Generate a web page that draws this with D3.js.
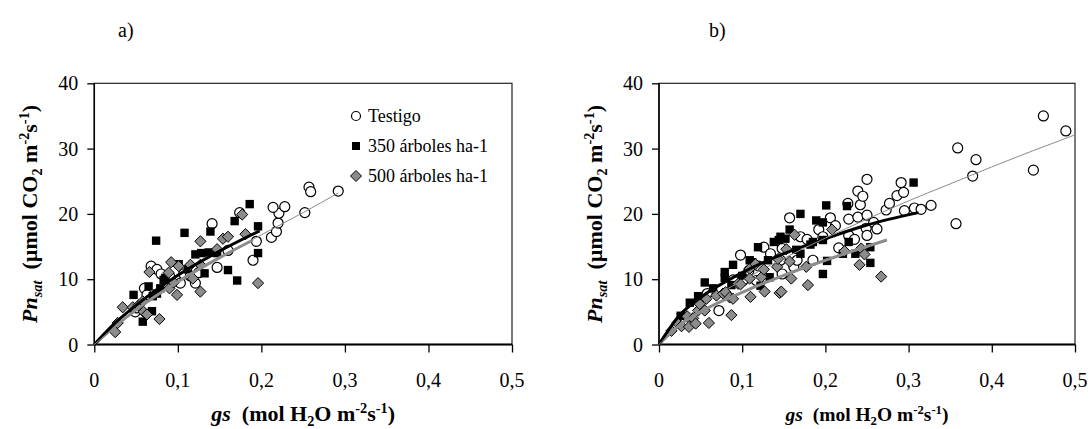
<!DOCTYPE html>
<html>
<head>
<meta charset="utf-8">
<script src="https://cdn.jsdelivr.net/npm/d3@7"></script>
<style>
  html, body { margin: 0; padding: 0; background: #fff; }
  svg text { font-family: "Liberation Serif", "Times New Roman", serif; white-space: pre; }
</style>
</head>
<body>
<svg id="chart" width="1091" height="429"></svg>
<script>
// ---------- DATA ----------
const xTicks = [0, 0.1, 0.2, 0.3, 0.4, 0.5];
const xTickLabels = ["0", "0,1", "0,2", "0,3", "0,4", "0,5"];
const yTicks = [0, 10, 20, 30, 40];
const yTickLabels = ["0", "10", "20", "30", "40"];
const panelLabels = ["a)", "b)"];
const seriesNames = ["Testigo", "350 árboles ha-1", "500 árboles ha-1"];

// Panel a
const testigoA = [
  [0.049,5.0],[0.051,5.6],[0.060,8.6],[0.063,7.6],[0.068,12.0],[0.075,11.5],[0.080,10.8],[0.090,10.5],
  [0.103,9.4],[0.107,10.8],[0.115,10.5],[0.121,9.4],[0.125,11.0],[0.141,18.5],[0.147,11.8],[0.160,14.4],
  [0.174,20.2],[0.190,12.9],[0.194,15.8],[0.212,16.4],[0.218,17.3],[0.220,18.6],[0.221,20.1],[0.214,21.0],
  [0.228,21.1],[0.252,20.2],[0.257,24.1],[0.259,23.4],[0.292,23.5]
];
const arb350A = [
  [0.047,7.6],[0.058,3.5],[0.065,8.9],[0.069,5.1],[0.070,7.4],[0.074,15.9],[0.075,7.8],[0.079,8.6],
  [0.083,9.9],[0.085,10.2],[0.101,12.3],[0.108,17.1],[0.112,11.5],[0.121,13.8],[0.128,14.0],[0.132,10.9],
  [0.137,14.1],[0.139,17.3],[0.147,14.0],[0.160,11.4],[0.168,18.9],[0.171,9.8],[0.186,21.5],[0.196,18.1],
  [0.196,14.0]
];
const arb500A = [
  [0.025,1.9],[0.028,3.3],[0.034,5.7],[0.046,5.7],[0.053,6.0],[0.058,6.6],[0.059,5.0],[0.063,4.6],
  [0.066,11.1],[0.078,3.9],[0.089,11.0],[0.090,8.6],[0.092,12.6],[0.095,9.5],[0.099,7.6],[0.101,12.0],
  [0.115,12.2],[0.118,10.1],[0.127,12.2],[0.127,8.1],[0.127,15.8],[0.147,14.6],[0.154,16.2],[0.160,16.5],
  [0.177,19.9],[0.181,16.9],[0.196,9.4]
];
const fitTestigoA = [[0,0],[0.025,2.7],[0.05,5.2],[0.1,9.5],[0.15,13.3],[0.2,16.8],[0.25,20.2],[0.292,23.2]];
const fit350A = [[0,0],[0.025,3.3],[0.05,6.0],[0.1,10.6],[0.15,14.3],[0.198,17.4]];
const fit500A = [[0,0],[0.025,2.8],[0.05,5.3],[0.1,9.6],[0.15,13.3],[0.19,16.0]];

// Panel b
const testigoB = [
  [0.058,7.8],[0.072,5.2],[0.089,9.9],[0.098,13.7],[0.101,9.8],[0.108,11.3],[0.117,9.8],[0.120,12.0],
  [0.126,14.9],[0.134,13.9],[0.146,12.9],[0.148,14.7],[0.148,10.8],[0.157,19.4],[0.162,11.9],[0.166,12.9],
  [0.170,16.5],[0.178,16.1],[0.185,12.9],[0.192,17.6],[0.197,16.5],[0.206,19.4],[0.212,18.2],[0.216,14.8],
  [0.227,21.6],[0.228,19.2],[0.228,16.7],[0.235,16.1],[0.239,23.5],[0.242,21.4],[0.239,19.5],[0.245,22.7],
  [0.250,25.3],[0.250,19.8],[0.249,17.8],[0.250,16.7],[0.258,18.7],[0.262,17.7],[0.273,20.6],[0.277,21.6],
  [0.286,22.8],[0.291,24.8],[0.294,23.3],[0.295,20.5],[0.307,20.9],[0.315,20.7],[0.327,21.3],[0.357,18.5],
  [0.359,30.1],[0.377,25.8],[0.381,28.3],[0.450,26.7],[0.462,35.0],[0.489,32.7]
];
const arb350B = [
  [0.026,4.4],[0.037,6.4],[0.047,7.4],[0.055,9.5],[0.065,8.6],[0.079,11.1],[0.079,10.2],[0.087,9.1],
  [0.089,12.2],[0.100,10.5],[0.109,12.9],[0.112,12.6],[0.119,14.9],[0.122,9.0],[0.131,12.9],[0.133,10.3],
  [0.138,15.7],[0.144,16.0],[0.146,16.5],[0.152,16.2],[0.157,17.6],[0.165,14.5],[0.170,20.0],[0.170,13.9],
  [0.182,15.3],[0.185,15.7],[0.189,19.0],[0.197,18.7],[0.197,16.0],[0.197,10.8],[0.201,21.3],[0.202,12.8],
  [0.221,13.9],[0.226,21.2],[0.228,15.7],[0.236,13.9],[0.254,14.9],[0.254,12.5],[0.306,24.8]
];
const arb500B = [
  [0.015,2.1],[0.022,3.3],[0.027,2.8],[0.034,4.3],[0.036,2.7],[0.041,4.0],[0.044,3.2],[0.047,5.2],
  [0.049,6.2],[0.055,5.2],[0.057,7.0],[0.060,3.3],[0.069,7.5],[0.077,7.8],[0.080,8.0],[0.085,7.2],
  [0.087,4.5],[0.089,7.0],[0.095,9.3],[0.098,9.2],[0.109,11.6],[0.109,10.1],[0.110,7.3],[0.116,12.3],
  [0.123,10.3],[0.126,11.5],[0.127,8.1],[0.142,11.9],[0.143,13.1],[0.145,7.9],[0.147,8.1],[0.153,14.6],
  [0.157,12.7],[0.159,10.1],[0.163,16.8],[0.177,11.9],[0.179,9.1],[0.208,17.6],[0.223,14.3],[0.241,12.2],
  [0.243,14.7],[0.247,13.8],[0.267,10.4]
];
const fitTestigoB = [[0,0],[0.05,5.9],[0.1,9.8],[0.15,13.2],[0.2,16.3],[0.25,19.2],[0.3,22.0],[0.35,24.6],[0.4,27.2],[0.45,29.7],[0.5,32.1]];
const fit350B = [[0,0],[0.025,4.5],[0.05,7.2],[0.1,11.0],[0.15,13.9],[0.2,16.2],[0.25,18.3],[0.312,20.2]];
const fit500B = [[0,0],[0.025,3.0],[0.05,5.0],[0.1,8.0],[0.15,10.6],[0.2,12.9],[0.274,16.0]];

// ---------- DRAW ----------
const svg = d3.select("#chart");

const panels = [
  { x0: 94.3, x1: 512, label: panelLabels[0], labelX: 118, testigo: testigoA, a350: arb350A, a500: arb500A,
    fT: fitTestigoA, f350: fit350A, f500: fit500A, legend: true, xTitleSize: 22 },
  { x0: 659, x1: 1075, label: panelLabels[1], labelX: 709, testigo: testigoB, a350: arb350B, a500: arb500B,
    fT: fitTestigoB, f350: fit350B, f500: fit500B, legend: false, xTitleSize: 19.5 }
];
const yTop = 83.3, yBot = 344.5;

function richText(sel, parts, size) {
  let cur = 0;
  parts.forEach(p => {
    const sz = p.small ? size * 0.65 : size;
    const shift = p.sub ? size * 0.22 : (p.sup ? -size * 0.38 : 0);
    sel.append("tspan")
      .attr("dy", (shift - cur).toFixed(2))
      .attr("font-size", sz)
      .attr("font-weight", p.bold === false ? "normal" : "bold")
      .attr("font-style", p.italic ? "italic" : "normal")
      .text(p.t);
    cur = shift;
  });
}

panels.forEach(P => {
  const x = d3.scaleLinear().domain([0, 0.5]).range([P.x0, P.x1]);
  const y = d3.scaleLinear().domain([0, 40]).range([yBot, yTop]);
  const g = svg.append("g");

  // frame
  g.append("rect").attr("x", P.x0).attr("y", yTop).attr("width", P.x1 - P.x0).attr("height", yBot - yTop)
    .attr("fill", "none").attr("stroke", "#222").attr("stroke-width", 1.2);

  // axes
  const xAxis = d3.axisBottom(x).tickValues(xTicks).tickSize(8).tickFormat("");
  const gx = g.append("g").attr("transform", `translate(0,${yBot})`).call(xAxis);
  gx.select(".domain").attr("stroke", "#000").attr("stroke-width", 2).attr("d", `M${P.x0},0H${P.x1}`);
  gx.selectAll(".tick line").attr("stroke", "#000").attr("stroke-width", 1.3);

  const yAxis = d3.axisLeft(y).tickValues(yTicks).tickSize(7).tickFormat("");
  const gy = g.append("g").attr("transform", `translate(${P.x0},0)`).call(yAxis);
  gy.select(".domain").attr("stroke", "#000").attr("stroke-width", 1.5).attr("d", `M0,${yTop}V${yBot}`);
  gy.selectAll(".tick line").attr("stroke", "#000").attr("stroke-width", 1.3);

  // tick labels
  g.selectAll(".xl").data(xTicks).join("text")
    .attr("x", d => x(d)).attr("y", 387).attr("text-anchor", "middle")
    .attr("font-size", 20).text((d, i) => xTickLabels[i]);
  g.selectAll(".yl").data(yTicks).join("text")
    .attr("x", P.x0 - 16).attr("y", d => y(d)).attr("dy", "0.35em").attr("text-anchor", "end")
    .attr("font-size", 20).text((d, i) => yTickLabels[i]);

  // panel label
  g.append("text").attr("x", P.labelX).attr("y", 37).attr("font-size", 20).text(P.label);

  // markers
  g.selectAll(".c").data(P.testigo).join("circle")
    .attr("cx", d => x(d[0])).attr("cy", d => y(d[1])).attr("r", 5)
    .attr("fill", "#fff").attr("stroke", "#000").attr("stroke-width", 1.2);
  g.selectAll(".s").data(P.a350).join("rect")
    .attr("x", d => x(d[0]) - 4.2).attr("y", d => y(d[1]) - 4.2).attr("width", 8.4).attr("height", 8.4)
    .attr("fill", "#000");
  const dm = 5.6;
  g.selectAll(".d").data(P.a500).join("path")
    .attr("d", d => { const cx = x(d[0]), cy = y(d[1]);
      return `M${cx},${cy - dm}L${cx + dm},${cy}L${cx},${cy + dm}L${cx - dm},${cy}Z`; })
    .attr("fill", "#8c8c8c").attr("stroke", "#000").attr("stroke-width", 1);

  // fitted lines
  const line = d3.line().x(d => x(d[0])).y(d => y(d[1])).curve(d3.curveMonotoneX);
  g.append("path").datum(P.f500).attr("d", line).attr("fill", "none").attr("stroke", "#8c8c8c").attr("stroke-width", 3);
  g.append("path").datum(P.f350).attr("d", line).attr("fill", "none").attr("stroke", "#000").attr("stroke-width", 3);
  g.append("path").datum(P.fT).attr("d", line).attr("fill", "none").attr("stroke", "#8c8c8c").attr("stroke-width", 1);

  // x title
  const cx = (P.x0 + P.x1) / 2;
  const xt = g.append("text").attr("x", cx).attr("y", 421).attr("text-anchor", "middle");
  richText(xt, [
    { t: "gs", italic: true }, { t: "  (mol H" }, { t: "2", small: true, sub: true }, { t: "O m" },
    { t: "-2", small: true, sup: true }, { t: "s" }, { t: "-1", small: true, sup: true }, { t: ")" }
  ], P.xTitleSize);

  // y title
  const yt = g.append("text").attr("text-anchor", "middle")
    .attr("transform", `translate(${P.x0 - 57},${(yTop + yBot) / 2}) rotate(-90)`);
  richText(yt, [
    { t: "Pn", italic: true }, { t: "sat", italic: true, small: true, sub: true }, { t: "  (µmol CO" },
    { t: "2", small: true, sub: true }, { t: " m" }, { t: "-2", small: true, sup: true }, { t: "s" },
    { t: "-1", small: true, sup: true }, { t: ")" }
  ], 22);

  // legend
  if (P.legend) {
    const lx = 356, ly = [116, 146, 176];
    const lg = g.append("g");
    lg.append("circle").attr("cx", lx).attr("cy", ly[0]).attr("r", 4.5)
      .attr("fill", "#fff").attr("stroke", "#000").attr("stroke-width", 1.2);
    lg.append("rect").attr("x", lx - 4).attr("y", ly[1] - 4).attr("width", 8).attr("height", 8).attr("fill", "#000");
    lg.append("path").attr("d", `M${lx},${ly[2] - 5.5}L${lx + 5.5},${ly[2]}L${lx},${ly[2] + 5.5}L${lx - 5.5},${ly[2]}Z`)
      .attr("fill", "#8c8c8c").attr("stroke", "#000").attr("stroke-width", 1);
    lg.selectAll(".lt").data(seriesNames).join("text")
      .attr("x", lx + 12).attr("y", (d, i) => ly[i]).attr("dy", "0.35em")
      .attr("font-size", 18).text(d => d);
  }
});
</script>
</body>
</html>
